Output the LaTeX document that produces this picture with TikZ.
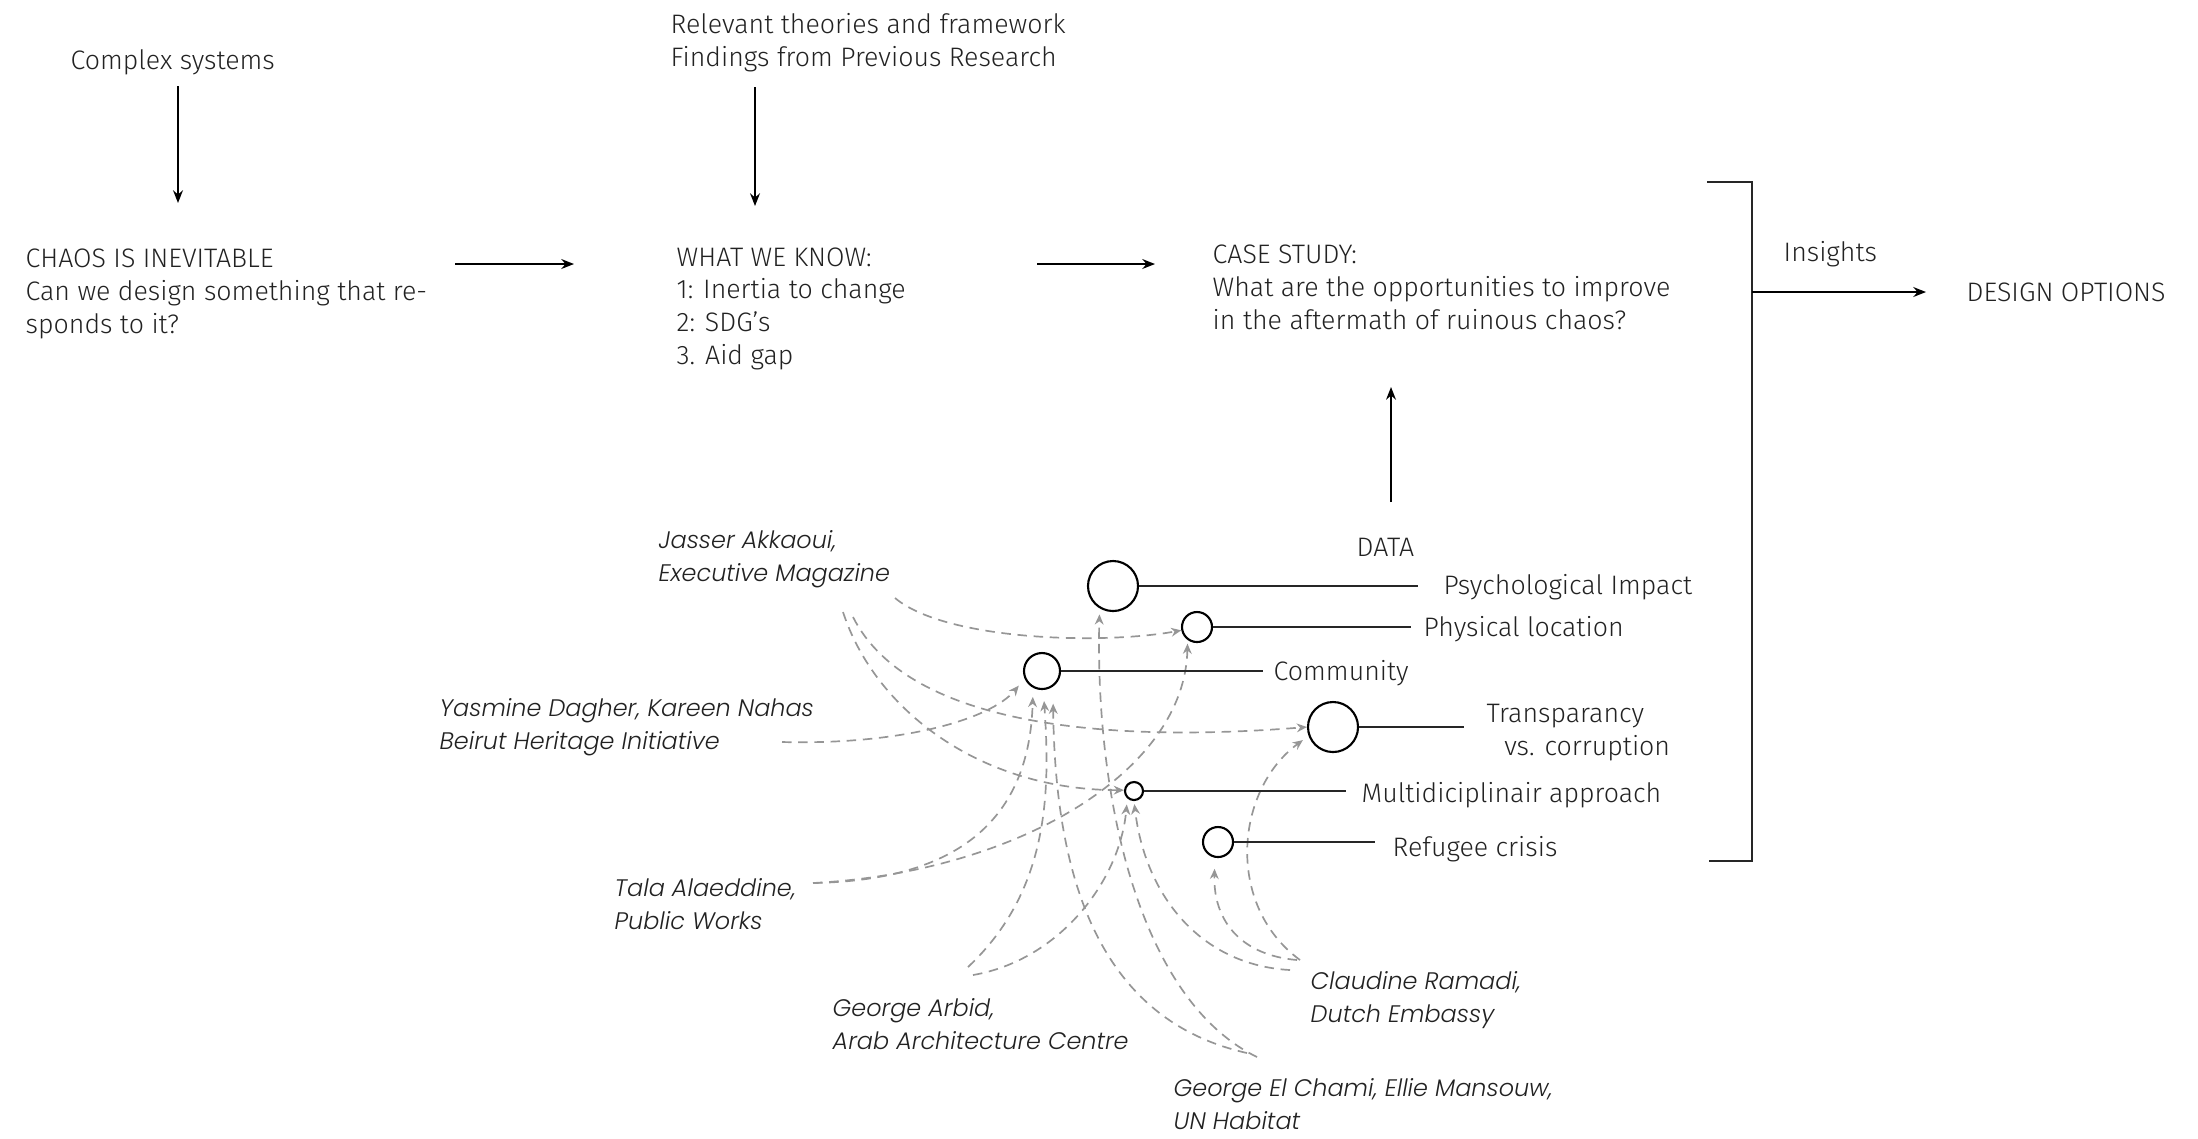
\documentclass[tikz,border=0pt]{standalone}
\usepackage{fontspec}
\setmainfont{Fira Sans}[UprightFont=* Light]
\newfontfamily\namefont{Poppins}[UprightFont=* Light, ItalicFont=* Light Italic]
\usetikzlibrary{arrows.meta}
\definecolor{ink}{HTML}{222222}
\definecolor{dashgray}{HTML}{969696}
\begin{document}
\begin{tikzpicture}[x=0.01cm,y=-0.01cm,
  % multi-line nodes sit on the baseline of their last line
  txt/.style={inner sep=0pt, anchor=base west, align=left, text=ink,
    font=\fontsize{7.6}{9.25}\selectfont},
  who/.style={inner sep=0pt, anchor=base west, align=left, text=ink,
    font=\namefont\itshape\fontsize{6.8}{9.25}\selectfont},
  flow/.style={draw=black, line width=0.55pt, -{Stealth[length=3.6pt,width=2.8pt]}},
  dot/.style={circle, draw=black, line width=0.6pt, inner sep=0pt, fill=white},
  tie/.style={draw=black!85, line width=0.5pt},
  cite/.style={draw=dashgray, line width=0.48pt, dash pattern=on 2.7pt off 1.9pt,
    -{Stealth[length=2.9pt,width=2.5pt,fill=dashgray]}},
]
\useasboundingbox (0,0) rectangle (2198,1138);

% ---- top row: the argument ----
\node[txt] (cs)    at (70,69)    {Complex systems};
\node[txt] (rel)   at (670,66)   {Relevant theories and framework\\Findings from Previous Research};
\node[txt] (chaos) at (25,333)   {CHAOS IS INEVITABLE\\Can we design something that re-\\sponds to it?};
\node[txt] (know)  at (676,364)  {WHAT WE KNOW:\\1: Inertia to change\\2: SDG’s\\3. Aid gap};
\node[txt] (case)  at (1212,329) {CASE STUDY:\\What are the opportunities to improve\\in the aftermath of ruinous chaos?};
\node[txt] (ins)   at (1783,261) {Insights};
\node[txt] (opt)   at (1966,301) {DESIGN OPTIONS};
\node[txt] (data)  at (1356,556) {DATA};

\coordinate (csA) at (178,86);   \coordinate (csB) at (178,203);
\coordinate (relA) at (755,87);  \coordinate (relB) at (755,206);
\coordinate (chA) at (455,264);  \coordinate (chB) at (574,264);
\coordinate (knA) at (1037,264); \coordinate (knB) at (1155,264);
\coordinate (daA) at (1391,502); \coordinate (daB) at (1391,387);
\coordinate (brTop) at (1707,182); \coordinate (brBot) at (1709,861);
\coordinate (brRight) at (1752,182); \coordinate (brMid) at (1752,292);
\coordinate (optIn) at (1926,292);

\draw[flow] (csA) -- (csB);
\draw[flow] (relA) -- (relB);
\draw[flow] (chA) -- (chB);
\draw[flow] (knA) -- (knB);
\draw[flow, line width=0.5pt] (daA) -- (daB);
\draw[tie, line width=0.55pt] (brTop) -- (brRight) |- (brBot);
\draw[flow] (brMid) -- (optIn);

% ---- data themes ----
\node[dot, minimum size=0.5cm]  (psy)   at (1113,586) {};
\node[dot, minimum size=0.3cm]  (phys)  at (1197,627) {};
\node[dot, minimum size=0.36cm] (comm)  at (1042,671) {};
\node[dot, minimum size=0.5cm]  (trans) at (1333,727) {};
\node[dot, minimum size=0.18cm] (multi) at (1134,791) {};
\node[dot, minimum size=0.3cm]  (refu)  at (1218,842) {};

\coordinate (psyE)   at (1418,586);
\coordinate (physE)  at (1411,627);
\coordinate (commE)  at (1263,671);
\coordinate (transE) at (1464,727);
\coordinate (multiE) at (1346,791);
\coordinate (refuE)  at (1375,842);

\node[txt] (psyL)   at (1443,594) {Psychological Impact};
\node[txt] (physL)  at (1423,636) {Physical location};
\node[txt] (commL)  at (1273,680) {Community};
\node[txt] (transL) at (1486,755) {Transparancy\\\hspace*{5pt}vs. corruption};
\node[txt] (multiL) at (1361,802) {Multidiciplinair approach};
\node[txt] (refuL)  at (1392,856) {Refugee crisis};

% ---- interviewees ----
\node[who] (jas) at (658,581)   {Jasser Akkaoui,\\Executive Magazine};
\node[who] (yas) at (439,749)   {Yasmine Dagher, Kareen Nahas\\Beirut Heritage Initiative};
\node[who] (tal) at (614,929)   {Tala Alaeddine,\\Public Works};
\node[who] (arb) at (832,1049)  {George Arbid,\\Arab Architecture Centre};
\node[who] (cla) at (1310,1022) {Claudine Ramadi,\\Dutch Embassy};
\node[who] (cha) at (1173,1129) {George El Chami, Ellie Mansouw,\\UN Habitat};

\coordinate (jas1) at (895,598);
\coordinate (jas2) at (843,612);
\coordinate (jas3) at (853,617);
\coordinate (yas1) at (782,742);
\coordinate (tal1) at (813,883);
\coordinate (arb1) at (968,967);
\coordinate (arb2) at (973,975);
\coordinate (cha1) at (1247,1053);
\coordinate (cha2) at (1257,1057);
\coordinate (cla1) at (1290,970);
\coordinate (cla2) at (1300,960);
\coordinate (cla3) at (1297,960);

% dashed links from each interview to the themes it fed
\draw[cite] (jas1) .. controls (945,640) and (1100,645) .. (phys.192);
\draw[cite] (jas2) .. controls (875,710) and (980,790) .. ([shift={(-0.03,0)}]multi.175);
\draw[cite] (jas3) .. controls (910,730) and (1120,742) .. (trans.180);
\draw[cite, shorten >=0.09cm] (yas1) .. controls (900,745) and (990,720) .. (comm.204);
\draw[cite, shorten >=0.036cm] (tal1) .. controls (1020,872) and (1185,770) .. (phys.234);
\draw[cite, shorten >=0.09cm] (tal1) .. controls (980,880) and (1030,800) .. (comm.242);
\draw[cite, shorten >=0.11cm] (arb1) .. controls (1050,890) and (1050,790) .. (comm.274);
\draw[cite, shorten >=0.06cm] (arb2) .. controls (1060,960) and (1120,880) .. (multi.228);
\draw[cite, shorten >=0.17cm] (cha1) .. controls (1100,1020) and (1055,880) .. (comm.305);
\draw[cite, shorten >=0.06cm] (cha2) .. controls (1140,1000) and (1095,800) .. (psy.239);
\draw[cite, shorten >=0.03cm] (cla1) .. controls (1200,965) and (1145,895) .. (multi.270);
\draw[cite, shorten >=0.07cm] (cla2) .. controls (1225,905) and (1235,790) .. (trans.200);
\draw[cite, shorten >=0.11cm] (cla3) .. controls (1240,955) and (1213,920) .. (refu.259);

% theme connectors drawn last so the circles sit on top
\draw[tie] (psy.east) -- (psyE);
\draw[tie] (phys.east) -- (physE);
\draw[tie] (comm.east) -- (commE);
\draw[tie] (trans.east) -- (transE);
\draw[tie] (multi.east) -- (multiE);
\draw[tie] (refu.east) -- (refuE);
\end{tikzpicture}
\end{document}
